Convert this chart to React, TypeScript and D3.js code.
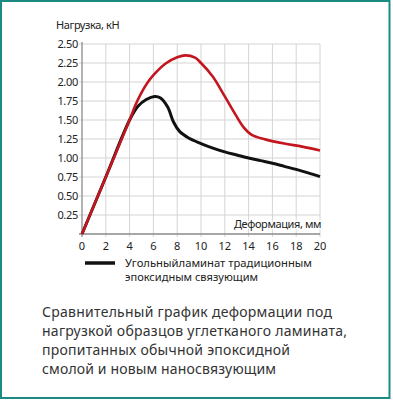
import React from "react";
import * as d3 from "d3";

const xTicks = [0, 2, 4, 6, 8, 10, 12, 14, 16, 18, 20];
const yTicks = [0.25, 0.5, 0.75, 1.0, 1.25, 1.5, 1.75, 2.0, 2.25, 2.5];

const redX = [0, 2, 4, 4.5, 5, 5.5, 6, 7, 8, 8.7, 9.5, 10, 11, 12, 12.9, 13.6, 14.3, 15.4, 17, 18.5, 20];
const redY = [0, 0.75, 1.5, 1.7, 1.86, 1.99, 2.09, 2.24, 2.325, 2.35, 2.32, 2.25, 2.07, 1.81, 1.57, 1.4, 1.3, 1.245, 1.19, 1.15, 1.1];

const blackX = [0, 2, 4, 4.7, 5.4, 6.1, 6.6, 7.2, 7.7, 8.2, 9, 10, 11, 12, 13, 14, 15, 16, 17, 18, 19, 20];
const blackY = [0, 0.75, 1.5, 1.68, 1.77, 1.81, 1.79, 1.67, 1.47, 1.35, 1.26, 1.19, 1.13, 1.08, 1.04, 1.0, 0.965, 0.93, 0.89, 0.85, 0.805, 0.755];

const yTitle = "Нагрузка, кН";
const xTitle = "Деформация, мм";
const legendLines = ["Угольныйламинат традиционным", "эпоксидным связующим"];
const captionLines = [
  "Сравнительный график деформации под",
  "нагрузкой образцов углетканого ламината,",
  "пропитанных обычной эпоксидной",
  "смолой и новым наносвязующим",
];

export default function App() {
  const W = 393, H = 400;
  const x = d3.scaleLinear().domain([0, 20]).range([82, 320]);
  const y = d3.scaleLinear().domain([0, 2.5]).range([234, 44]);
  const line = d3
    .line<[number, number]>()
    .x((d) => x(d[0]))
    .y((d) => y(d[1]))
    .curve(d3.curveCatmullRom.alpha(0.5));
  const red: [number, number][] = redX.map((v, i) => [v, redY[i]]);
  const black: [number, number][] = blackX.map((v, i) => [v, blackY[i]]);
  const font = "'Noto Sans', sans-serif";
  const gridColor = "#d4d4d4";
  const capWidths = [290, 305, 248, 234];
  const capBase = [317, 336, 355, 374];

  return (
    <svg width={W} height={H} style={{ position: "absolute", left: 0, top: 0 }} fontFamily={font}>
      <rect x={0} y={0} width={W} height={H} fill="#fff" />
      <rect x={1} y={1} width={388.5} height={397} fill="none" stroke="#1b8a80" strokeWidth={2} />
      {/* grid */}
      {xTicks.filter((t) => t > 0).map((t) => (
        <line key={"gx" + t} x1={x(t)} x2={x(t)} y1={y(2.5)} y2={y(0) + 3} stroke={gridColor} strokeWidth={1} />
      ))}
      {yTicks.map((t) => (
        <line key={"gy" + t} x1={x(0) - 3} x2={x(20)} y1={y(t)} y2={y(t)} stroke={gridColor} strokeWidth={1} />
      ))}
      {/* axes */}
      <line x1={x(0)} x2={x(0)} y1={y(2.5) - 2} y2={y(0) + 3} stroke="#8a8a8a" strokeWidth={1.3} />
      <line x1={x(0) - 3} x2={x(20)} y1={y(0)} y2={y(0)} stroke="#8a8a8a" strokeWidth={1.3} />
      {/* y tick labels */}
      {yTicks.map((t) => (
        <text key={"ly" + t} x={78} y={y(t) + 4} fontSize={11} textAnchor="end" fill="#222" letterSpacing={-0.3}>
          {t.toFixed(2)}
        </text>
      ))}
      {xTicks.map((t) => (
        <text key={"lx" + t} x={x(t)} y={250} fontSize={11} textAnchor="middle" fill="#222">
          {t}
        </text>
      ))}
      <text x={56} y={29} fontSize={11} fill="#222" letterSpacing={-0.4}>{yTitle}</text>
      <text x={321} y={228} fontSize={11} textAnchor="end" fill="#222" letterSpacing={-0.4}
        stroke="#fff" strokeWidth={3} paintOrder="stroke">{xTitle}</text>
      {/* curves */}
      <path d={line(black) || ""} fill="none" stroke="#111" strokeWidth={3} strokeLinejoin="round" />
      <path d={line(red) || ""} fill="none" stroke="#c3161f" strokeWidth={2.6} strokeLinejoin="round" />
      {/* legend */}
      <line x1={85} x2={115} y1={263} y2={263} stroke="#111" strokeWidth={3.5} />
      <text x={125} y={267} fontSize={10} fill="#222" textLength={187} lengthAdjust="spacingAndGlyphs">{legendLines[0]}</text>
      <text x={125} y={281} fontSize={10} fill="#222" textLength={133} lengthAdjust="spacingAndGlyphs">{legendLines[1]}</text>
      {/* caption */}
      {captionLines.map((s, i) => (
        <text key={"c" + i} x={42} y={capBase[i]} fontSize={14} fill="#333" textLength={capWidths[i]} lengthAdjust="spacing">
          {s}
        </text>
      ))}
    </svg>
  );
}
